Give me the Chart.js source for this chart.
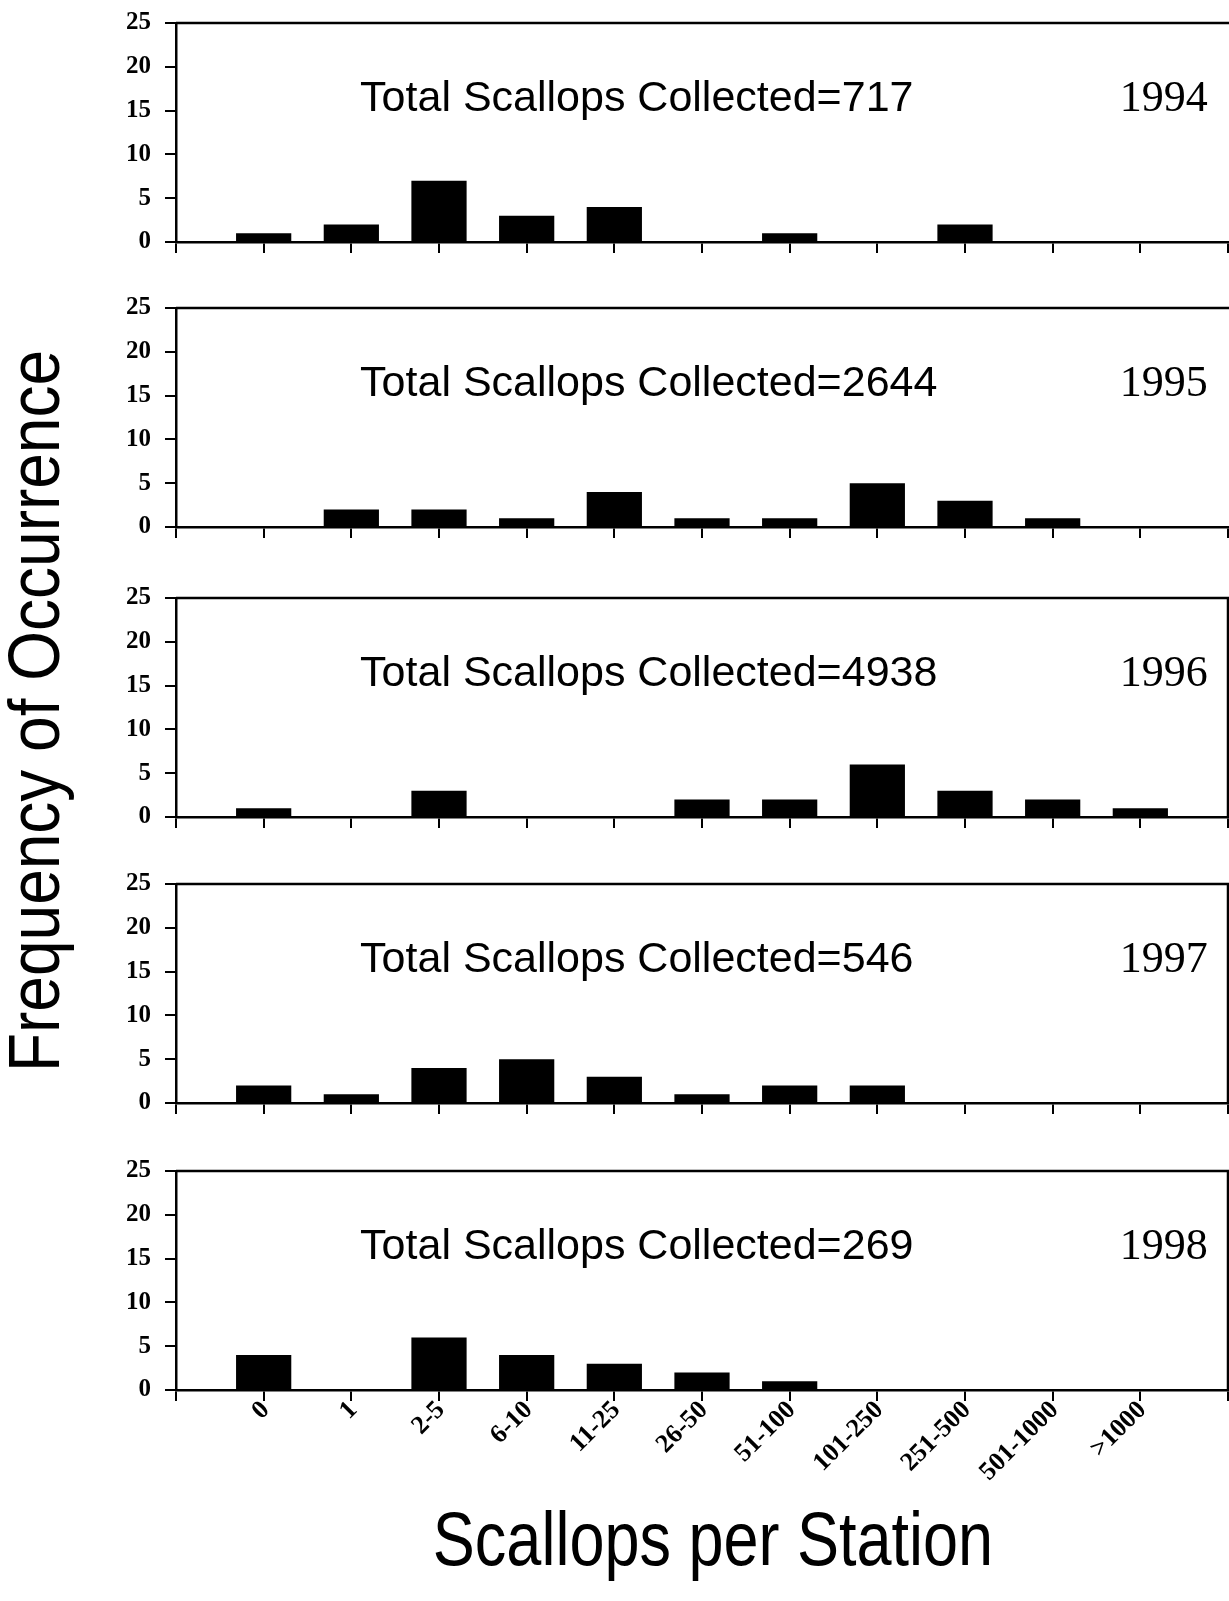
<!DOCTYPE html>
<html lang="en">
<head>
    <meta charset="UTF-8">
    <title>Scallops per Station</title>
    <script src="https://cdn.jsdelivr.net/npm/chart.js"></script>
    <style>
        body { margin: 0; background: #fff; }
        #page { position: relative; width: 1229px; height: 1601px; background: #fff; overflow: hidden; }
        .panel { position: absolute; left: 0; width: 1229px; }
        .title { position: absolute; font-family: "Liberation Sans", Arial, sans-serif; color: #000; white-space: nowrap; text-align: center; }
        #ytitle { font-size: 64px; line-height: 64px; width: 800px; height: 64px; left: -366px; top: 679px; transform: rotate(-90deg) scaleY(1.12); }
        #xtitle { font-size: 63px; line-height: 63px; width: 800px; left: 313px; top: 1512px; transform: scaleY(1.2); transform-origin: 50% 85%; }
    </style>
</head>
<body>
<div id="page">
    <div id="ytitle" class="title">Frequency of Occurrence</div>
    <div id="xtitle" class="title">Scallops per Station</div>
</div>

<script>
    // data
    const categories = ['0', '1', '2-5', '6-10', '11-25', '26-50', '51-100', '101-250', '251-500', '501-1000', '>1000'];
    const years = ['1994', '1995', '1996', '1997', '1998'];
    const totals = [717, 2644, 4938, 546, 269];
    const freq1994 = [1, 2, 7, 3, 4, 0, 1, 0, 2, 0, 0];
    const freq1995 = [0, 2, 2, 1, 4, 1, 1, 5, 3, 1, 0];
    const freq1996 = [1, 0, 3, 0, 0, 2, 2, 6, 3, 2, 1];
    const freq1997 = [2, 1, 4, 5, 3, 1, 2, 2, 0, 0, 0];
    const freq1998 = [4, 0, 6, 4, 3, 2, 1, 0, 0, 0, 0];
    const yTickValues = [0, 5, 10, 15, 20, 25];

    const series = [freq1994, freq1995, freq1996, freq1997, freq1998];

    // layout
    const panelTop = [23, 308, 598, 884, 1171];
    const plotH = 219;
    const PAD_TOP = 30;
    const X_H = 20;
    const X_H_LAST = 120;

    const serif = '"Liberation Serif", "Times New Roman", serif';

    const panelFrame = {
        id: 'panelFrame',
        afterDraw(chart, args, opts) {
            const {ctx, chartArea: a} = chart;
            const x = chart.scales.x, y = chart.scales.y;
            ctx.save();
            ctx.strokeStyle = '#000';
            ctx.lineWidth = 2.5;
            ctx.beginPath();
            ctx.moveTo(a.left, a.top);
            ctx.lineTo(chart.width, a.top);
            if (opts.rightBorder) {
                ctx.moveTo(a.right, a.top);
                ctx.lineTo(a.right, a.bottom);
            }
            ctx.stroke();

            ctx.fillStyle = '#000';
            ctx.textBaseline = 'alphabetic';
            ctx.font = '43px "Liberation Sans", Arial, sans-serif';
            ctx.textAlign = 'left';
            ctx.fillText('Total Scallops Collected=' + opts.total, x.getPixelForValue(2.1), y.getPixelForValue(15));
            ctx.font = '44px ' + serif;
            ctx.textAlign = 'right';
            ctx.fillText(opts.year, x.getPixelForValue(11.77), y.getPixelForValue(15));
            ctx.restore();
        }
    };

    const page = document.getElementById('page');

    series.forEach((values, p) => {
        const last = p === series.length - 1;
        const xH = last ? X_H_LAST : X_H;

        const box = document.createElement('div');
        box.className = 'panel';
        box.style.top = (panelTop[p] - PAD_TOP) + 'px';
        box.style.height = (PAD_TOP + plotH + xH) + 'px';
        const canvas = document.createElement('canvas');
        box.appendChild(canvas);
        page.appendChild(box);

        new Chart(canvas, {
            type: 'bar',
            data: {
                datasets: [{
                    data: values.map((v, i) => ({x: i + 1, y: v})),
                    backgroundColor: '#000',
                    borderWidth: 0,
                    barPercentage: 0.63,
                    categoryPercentage: 1
                }]
            },
            options: {
                responsive: true,
                maintainAspectRatio: false,
                animation: false,
                events: [],
                layout: {padding: {top: PAD_TOP, right: 1, left: 0, bottom: 0}},
                plugins: {
                    legend: {display: false},
                    tooltip: {enabled: false},
                    panelFrame: {total: totals[p], year: years[p], rightBorder: p >= 2}
                },
                scales: {
                    x: {
                        type: 'linear',
                        min: 0,
                        max: categories.length + 1,
                        offset: false,
                        afterBuildTicks: s => {
                            s.ticks = [];
                            for (let i = 0; i <= categories.length + 1; i++) s.ticks.push({value: i});
                        },
                        afterFit: s => { s.height = xH; s.paddingLeft = 0; s.paddingRight = 0; },
                        grid: {offset: false, drawOnChartArea: false, drawTicks: true, tickLength: 11, color: '#000', lineWidth: 2},
                        border: {display: true, color: '#000', width: 2.5},
                        ticks: {
                            display: last,
                            autoSkip: false,
                            minRotation: 45,
                            maxRotation: 45,
                            padding: -6,
                            labelOffset: 2,
                            color: '#000',
                            font: {family: serif, size: 26, weight: 'bold'},
                            callback: v => categories[v - 1] || ''
                        }
                    },
                    y: {
                        min: 0,
                        max: 25,
                        afterBuildTicks: s => { s.ticks = yTickValues.map(v => ({value: v})); },
                        afterFit: s => { s.width = 176; s.paddingTop = 0; s.paddingBottom = 0; },
                        grid: {drawOnChartArea: false, drawTicks: true, tickLength: 11, color: '#000', lineWidth: 2},
                        border: {display: true, color: '#000', width: 2.5},
                        ticks: {
                            padding: 14,
                            color: '#000',
                            font: {family: serif, size: 25, weight: 'bold'}
                        }
                    }
                }
            },
            plugins: [panelFrame]
        });
    });
</script>
</body>
</html>
